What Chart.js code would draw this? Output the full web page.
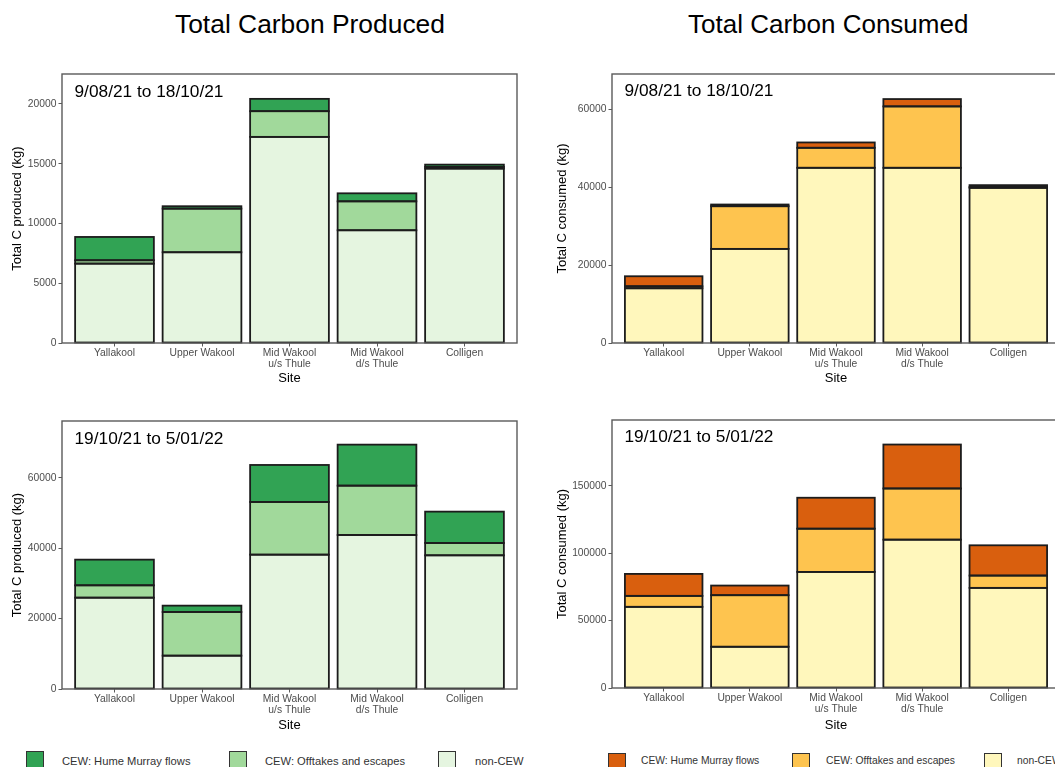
<!DOCTYPE html>
<html>
<head>
<meta charset="utf-8">
<script src="https://cdn.jsdelivr.net/npm/chart.js@4/dist/chart.umd.min.js"></script>
<style>
  html, body { margin: 0; padding: 0; background: #fff; }
  body { width: 1055px; height: 767px; position: relative; overflow: hidden;
         font-family: "Liberation Sans", Arial, sans-serif; }
  canvas { position: absolute; }
  .title { position: absolute; line-height: 1; color: #000; white-space: nowrap; }
  .lg-box { position: absolute; width: 18px; height: 18px; box-sizing: border-box; border: 1px solid #333; }
  .lg-text { position: absolute; line-height: 14px; color: #333; white-space: nowrap; }
</style>
</head>
<body>
<div class="title" style="left:175px; top:10.6px; font-size:26.4px;">Total Carbon Produced</div>
<div class="title" style="left:688px; top:11px; font-size:26px;">Total Carbon Consumed</div>

<canvas id="prodP1"></canvas>
<canvas id="consP1"></canvas>
<canvas id="prodP2"></canvas>
<canvas id="consP2"></canvas>

<div id="legendProd"></div>
<div id="legendCons"></div>

<script>
// ---- data -------------------------------------------------------------
const SITES = ['Yallakool', 'Upper Wakool', 'Mid Wakool\nu/s Thule', 'Mid Wakool\nd/s Thule', 'Colligen'];
const SERIES = ['non-CEW', 'CEW: Offtakes and escapes', 'CEW: Hume Murray flows'];
const GREENS = ['#e5f5e0', '#a1d99b', '#31a354'];
const ORANGES = ['#fff7bc', '#fec44f', '#d95f0e'];
const PERIODS = ['9/08/21 to 18/10/21', '19/10/21 to 5/01/22'];

// Carbon produced (kg), 9/08/21 to 18/10/21
const prodP1NonCEW   = [6640, 7590, 17240, 9430, 14590];
const prodP1Offtakes = [280, 3650, 2150, 2420, 140];
const prodP1Hume     = [1950, 200, 1030, 670, 190];
// Carbon consumed (kg), 9/08/21 to 18/10/21
const consP1NonCEW   = [14040, 24140, 44940, 44940, 39800];
const consP1Offtakes = [510, 10950, 5130, 15750, 260];
const consP1Hume     = [2570, 430, 1370, 1880, 430];
// Carbon produced (kg), 19/10/21 to 5/01/22
const prodP2NonCEW   = [25970, 9480, 38200, 43790, 38010];
const prodP2Offtakes = [3510, 12420, 14980, 14030, 3510];
const prodP2Hume     = [7300, 1800, 10520, 11660, 8910];
// Carbon consumed (kg), 19/10/21 to 5/01/22
const consP2NonCEW   = [60200, 30590, 86110, 110040, 74270];
const consP2Offtakes = [8140, 38250, 32070, 37960, 9130];
const consP2Hume     = [16290, 7150, 22950, 32600, 22450];

// y-axis ticks per panel
const TICKS_PROD_P1 = [0, 5000, 10000, 15000, 20000];
const TICKS_CONS_P1 = [0, 20000, 40000, 60000];
const TICKS_PROD_P2 = [0, 20000, 40000, 60000];
const TICKS_CONS_P2 = [0, 50000, 100000, 150000];

// ---- drawing helpers --------------------------------------------------
const FONT = '"Liberation Sans", Arial, sans-serif';
const OUTLINE = '#1c1c1c';
const FRAME = '#5a5a5a';

// each stacked segment gets a centred outline, so shared edges stay one stroke wide
const segmentOutline = {
  id: 'segmentOutline',
  afterDatasetsDraw(chart) {
    const {ctx} = chart;
    ctx.save();
    ctx.strokeStyle = OUTLINE;
    ctx.lineWidth = 1.8;
    ctx.lineJoin = 'miter';
    chart.data.datasets.forEach((ds, di) => {
      chart.getDatasetMeta(di).data.forEach(bar => {
        const {x, y, base, width} = bar.getProps(['x', 'y', 'base', 'width'], true);
        ctx.strokeRect(x - width / 2, Math.min(y, base), width, Math.abs(base - y));
      });
    });
    ctx.restore();
  }
};

const panelFrame = {
  id: 'panelFrame',
  afterDatasetsDraw(chart) {
    const {ctx, chartArea: a} = chart;
    ctx.save();
    ctx.strokeStyle = FRAME;
    ctx.lineWidth = 1.4;
    ctx.strokeRect(a.left, a.top, a.right - a.left, a.bottom - a.top);
    ctx.restore();
  }
};

const periodLabel = {
  id: 'periodLabel',
  afterDraw(chart, args, opts) {
    const {ctx, chartArea: a} = chart;
    ctx.save();
    ctx.font = '17.3px ' + FONT;
    ctx.fillStyle = '#000';
    ctx.textBaseline = 'alphabetic';
    ctx.textAlign = 'left';
    ctx.fillText(opts.text, a.left + opts.dx, a.top + opts.dy);
    ctx.restore();
  }
};

function makePanel(cfg) {
  const canvas = document.getElementById(cfg.id);
  const box = cfg.box, area = cfg.area;
  canvas.width = box.w;
  canvas.height = box.h;
  canvas.style.left = box.x + 'px';
  canvas.style.top = box.y + 'px';

  const yAxisW = area.left - box.x;
  const xAxisH = box.y + box.h - area.bottom;

  const datasets = cfg.series.map((vals, k) => ({
    label: SERIES[k],
    data: vals.map((v, i) => ({x: i + 1, y: v})),
    backgroundColor: cfg.colors[k],
    borderWidth: 0,
    inflateAmount: 0,
    barPercentage: 0.9,
    categoryPercentage: 1.0
  }));

  return new Chart(canvas, {
    type: 'bar',
    data: {datasets},
    plugins: [segmentOutline, panelFrame, periodLabel],
    options: {
      responsive: false,
      animation: false,
      devicePixelRatio: 1,
      layout: {padding: {top: area.top - box.y, right: box.x + box.w - area.right, left: 0, bottom: 0}},
      plugins: {
        legend: {display: false},
        tooltip: {enabled: false},
        periodLabel: {text: cfg.period, dx: 12.5, dy: cfg.labelDy}
      },
      scales: {
        x: {
          type: 'linear',
          stacked: true,
          min: 0.4,
          max: 5.6,
          offset: false,
          afterBuildTicks: s => { s.ticks = SITES.map((_, i) => ({value: i + 1})); },
          afterFit: s => { s.height = xAxisH; },
          grid: {offset: false, drawOnChartArea: false, drawTicks: true, tickLength: 3.5, color: FRAME, tickWidth: 1},
          border: {display: false},
          ticks: {
            autoSkip: false, maxRotation: 0, minRotation: 0, padding: 1,
            color: '#4d4d4d',
            font: {family: FONT, size: 10.3, lineHeight: 1.1},
            callback: v => (SITES[v - 1] ? SITES[v - 1].split('\n') : '')
          },
          title: {display: true, text: 'Site', color: '#000',
                  font: {family: FONT, size: 13}, padding: {top: 0, bottom: cfg.xTitlePad}}
        },
        y: {
          type: 'linear',
          stacked: true,
          min: 0,
          max: cfg.yMax,
          afterBuildTicks: s => { s.ticks = cfg.yTicks.map(v => ({value: v})); },
          afterFit: s => { s.width = yAxisW; },
          grid: {drawOnChartArea: false, drawTicks: true, tickLength: 3.5, color: FRAME, tickWidth: 1},
          border: {display: false},
          ticks: {
            autoSkip: false, padding: 2, color: '#4d4d4d',
            font: {family: FONT, size: 10.3},
            callback: v => String(v)
          },
          title: {display: true, text: cfg.yTitle, color: '#000',
                  font: {family: FONT, size: 13}, padding: {top: cfg.yTitlePad, bottom: 0}}
        }
      }
    }
  });
}

makePanel({
  id: 'prodP1', box: {x: 0, y: 60, w: 530, h: 332}, area: {left: 62, top: 74, right: 517, bottom: 343},
  series: [prodP1NonCEW, prodP1Offtakes, prodP1Hume], colors: GREENS,
  yMax: 22500, yTicks: TICKS_PROD_P1, yTitle: 'Total C produced (kg)', period: PERIODS[0],
  labelDy: 23, xTitlePad: 6.2, yTitlePad: 9.2
});
makePanel({
  id: 'consP1', box: {x: 550, y: 60, w: 525, h: 332}, area: {left: 612, top: 74, right: 1060, bottom: 343},
  series: [consP1NonCEW, consP1Offtakes, consP1Hume], colors: ORANGES,
  yMax: 69000, yTicks: TICKS_CONS_P1, yTitle: 'Total C consumed (kg)', period: PERIODS[0],
  labelDy: 21.5, xTitlePad: 6, yTitlePad: 4.2
});
makePanel({
  id: 'prodP2', box: {x: 0, y: 406, w: 530, h: 332}, area: {left: 62, top: 421, right: 517, bottom: 689},
  series: [prodP2NonCEW, prodP2Offtakes, prodP2Hume], colors: GREENS,
  yMax: 76200, yTicks: TICKS_PROD_P2, yTitle: 'Total C produced (kg)', period: PERIODS[1],
  labelDy: 22.5, xTitlePad: 5.2, yTitlePad: 9.8
});
makePanel({
  id: 'consP2', box: {x: 550, y: 406, w: 525, h: 332}, area: {left: 612, top: 420, right: 1060, bottom: 688},
  series: [consP2NonCEW, consP2Offtakes, consP2Hume], colors: ORANGES,
  yMax: 198800, yTicks: TICKS_CONS_P2, yTitle: 'Total C consumed (kg)', period: PERIODS[1],
  labelDy: 22, xTitlePad: 5.2, yTitlePad: 4.2
});

// ---- legends (reverse of stack order: Hume first) ----------------------
function buildLegend(el, colors, boxXs, textXs, boxTop, textCenter, fontSize) {
  const order = [2, 1, 0];
  order.forEach((k, j) => {
    const b = document.createElement('div');
    b.className = 'lg-box';
    b.style.left = boxXs[j] + 'px';
    b.style.top = boxTop + 'px';
    b.style.background = colors[k];
    el.appendChild(b);
    const t = document.createElement('div');
    t.className = 'lg-text';
    t.style.left = textXs[j] + 'px';
    t.style.top = (textCenter - 7) + 'px';
    t.style.fontSize = fontSize + 'px';
    t.textContent = SERIES[k];
    el.appendChild(t);
  });
}
buildLegend(document.getElementById('legendProd'), GREENS, [26, 229, 438], [62, 265, 475], 751, 760.5, 11.2);
buildLegend(document.getElementById('legendCons'), ORANGES, [608, 792, 984], [641, 826, 1017], 753, 761, 10.3);
</script>
</body>
</html>
